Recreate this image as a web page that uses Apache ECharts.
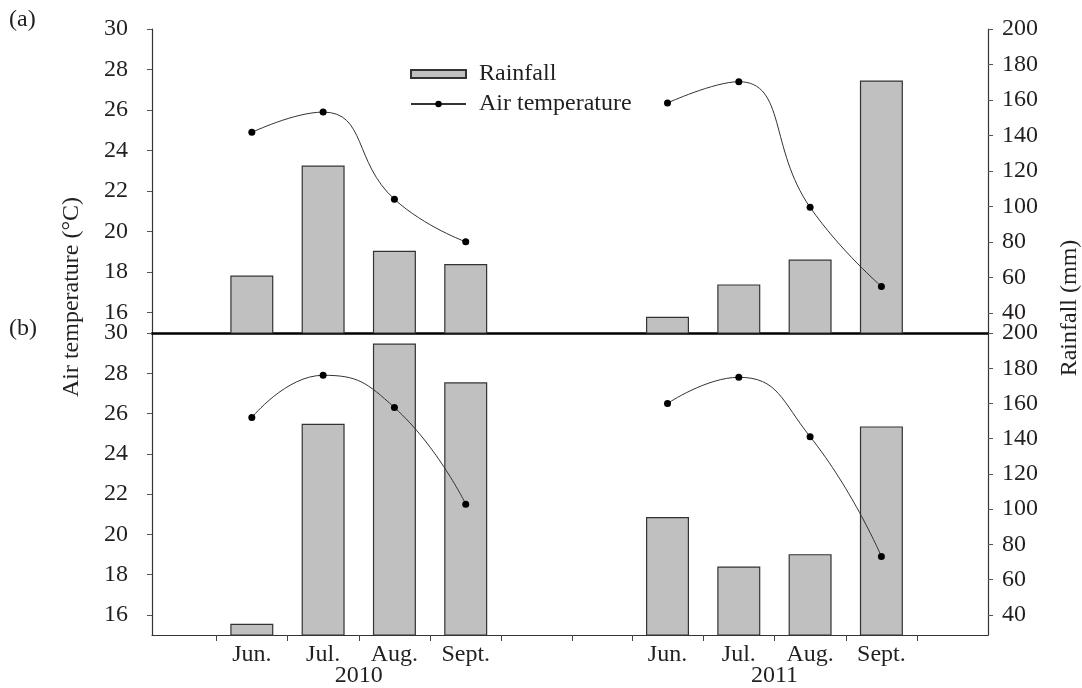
<!DOCTYPE html>
<html>
<head>
<meta charset="utf-8">
<script src="https://cdn.jsdelivr.net/npm/echarts@6/dist/echarts.min.js"></script>
<style>html,body{margin:0;padding:0;background:#fff}#c{width:1082px;height:688px}</style>
</head>
<body>
<div id="c"></div>
<script>
// ---- data ----
const months = ['Jun.', 'Jul.', 'Aug.', 'Sept.'];
const years = ['2010', '2011'];
const monthPos2010 = [0, 1, 2, 3];
const monthPos2011 = [5.83, 6.83, 7.83, 8.83];
const yearPos = [1.5, 7.33];
const xTicks = [-0.5, 0.5, 1.5, 2.5, 3.5, 4.5, 5.33, 6.33, 7.33, 8.33, 9.33];
const tempTicks = [16, 18, 20, 22, 24, 26, 28, 30];
const rainTicks = [40, 60, 80, 100, 120, 140, 160, 180, 200];

// panel (a)
const tempA2010 = [24.9, 25.9, 21.6, 19.5];
const tempA2011 = [26.35, 27.4, 21.2, 17.3];
const rainA2010 = [61, 123, 75, 67.5];
const rainA2011 = [37.7, 56, 70, 171];
// panel (b)
const tempB2010 = [25.8, 27.9, 26.3, 21.5];
const tempB2011 = [26.5, 27.8, 24.85, 18.9];
const rainB2010 = [35, 148.5, 194, 172];
const rainB2011 = [95.5, 67.5, 74.5, 147];

const FONT = 'Liberation Serif';
const FS = 24;
const TXT = '#231f20';
const pairs = (xs, ys) => xs.map((x, i) => [x, ys[i]]);

const chart = echarts.init(document.getElementById('c'), null, {renderer: 'canvas'});

const xBase = {
  type: 'value', min: -1.4, max: 10.325, position: 'bottom',
  splitLine: {show: false}
};
const labelPos = monthPos2010.concat(monthPos2011);
function monthName(v) {
  let i = monthPos2010.indexOf(v);
  if (i < 0) i = monthPos2011.indexOf(v);
  return i >= 0 ? months[i] : '';
}

const tempAxis = (grid) => ({
  type: 'value', gridIndex: grid, min: 15, max: 30, position: 'left',
  axisLine: {show: true, onZero: false, lineStyle: {color: '#333', width: 1.2}},
  axisTick: {show: true, length: 5, lineStyle: {color: '#555'}, customValues: tempTicks},
  axisLabel: {customValues: tempTicks, fontFamily: FONT, fontSize: FS, color: TXT, margin: 24},
  splitLine: {show: false}
});
const rainAxis = (grid) => ({
  type: 'value', gridIndex: grid, min: 28.6, max: 200, position: 'right',
  axisLine: {show: true, onZero: false, lineStyle: {color: '#333', width: 1.2}},
  axisTick: {show: true, length: 5, lineStyle: {color: '#555'}, customValues: rainTicks},
  axisLabel: {customValues: rainTicks, fontFamily: FONT, fontSize: FS, color: TXT, margin: 14},
  splitLine: {show: false}
});

const barStyle = {color: '#c0c0c0', borderColor: '#333', borderWidth: 1.2};
const lineSeries = (name, xi, yi, data) => ({
  name, type: 'line', xAxisIndex: xi, yAxisIndex: yi, data,
  smooth: 0.5, symbol: 'circle', symbolSize: 7,
  itemStyle: {color: '#000'}, lineStyle: {color: '#333', width: 1}, z: 5
});
const barSeries = (name, xi, yi, data) => ({
  name, type: 'bar', xAxisIndex: xi, yAxisIndex: yi, data,
  barWidth: 43, itemStyle: barStyle
});

chart.setOption({
  animation: false,
  backgroundColor: '#fff',
  textStyle: {fontFamily: FONT, color: TXT},
  grid: [
    {left: 152, right: 94, top: 29, height: 304},
    {left: 152, right: 94, top: 333, height: 303}
  ],
  legend: {
    orient: 'vertical', left: 405, top: 57, itemWidth: 55, itemHeight: 8, itemGap: 6,
    textStyle: {fontFamily: FONT, fontSize: FS, color: TXT, padding: [0, 0, 0, 8]},
    data: [{name: 'Rainfall', icon: 'rect'}, {name: 'Air temperature'}]
  },
  xAxis: [
    Object.assign({}, xBase, {
      gridIndex: 0,
      axisLine: {show: true, onZero: false, lineStyle: {color: '#000', width: 2.5}},
      axisTick: {show: false}, axisLabel: {show: false}
    }),
    Object.assign({}, xBase, {
      gridIndex: 1,
      axisLine: {show: true, onZero: false, lineStyle: {color: '#333', width: 1.2}},
      axisTick: {show: true, length: 6, inside: false, customValues: xTicks, lineStyle: {color: '#444'}},
      axisLabel: {customValues: labelPos, formatter: monthName, fontFamily: FONT, fontSize: FS, color: TXT, margin: 8}
    }),
    Object.assign({}, xBase, {
      gridIndex: 1,
      axisLine: {show: false, onZero: false}, axisTick: {show: false},
      axisLabel: {customValues: yearPos, formatter: (v) => years[yearPos.indexOf(v)] || '', fontFamily: FONT, fontSize: FS, color: TXT, margin: 29}
    })
  ],
  yAxis: [tempAxis(0), rainAxis(0), tempAxis(1), rainAxis(1)],
  series: [
    barSeries('Rainfall', 0, 1, pairs(monthPos2010, rainA2010).concat(pairs(monthPos2011, rainA2011))),
    lineSeries('Air temperature', 0, 0, pairs(monthPos2010, tempA2010)),
    lineSeries('Air temperature', 0, 0, pairs(monthPos2011, tempA2011)),
    barSeries('Rainfall', 1, 3, pairs(monthPos2010, rainB2010).concat(pairs(monthPos2011, rainB2011))),
    lineSeries('Air temperature', 1, 2, pairs(monthPos2010, tempB2010)),
    lineSeries('Air temperature', 1, 2, pairs(monthPos2011, tempB2011))
  ],
  graphic: [
    {type: 'text', left: 9, top: 8, style: {text: '(a)', font: FS + 'px "Liberation Serif"', fill: TXT}},
    {type: 'text', left: 9, top: 317, style: {text: '(b)', font: FS + 'px "Liberation Serif"', fill: TXT}},
    {type: 'text', x: 72, y: 297, rotation: Math.PI / 2,
     style: {text: 'Air temperature (°C)', font: FS + 'px "Liberation Serif"', fill: TXT, align: 'center', verticalAlign: 'middle'}},
    {type: 'text', x: 1070, y: 308, rotation: Math.PI / 2,
     style: {text: 'Rainfall (mm)', font: FS + 'px "Liberation Serif"', fill: TXT, align: 'center', verticalAlign: 'middle'}}
  ]
});
</script>
</body>
</html>
